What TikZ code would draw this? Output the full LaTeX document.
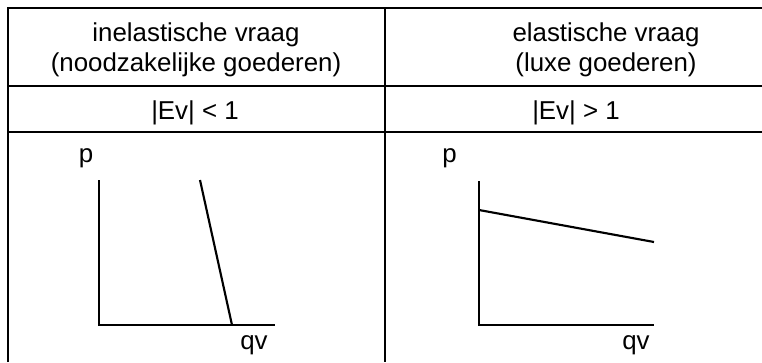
\documentclass[tikz,border=0pt]{standalone}
\usepackage{fontspec}
\setmainfont{Liberation Sans}

\begin{document}
\begin{tikzpicture}[x=0.75pt, y=-0.75pt,
  rule/.style={draw=black, line width=1.5pt},
  axis/.style={draw=black, line width=1.6pt},
  demand/.style={draw=black, line width=1.6pt},
  celltext/.style={font=\fontsize{19.4}{22.5}\selectfont, align=center, inner sep=0pt},
  axlabel/.style={font=\fontsize{19.4}{22.5}\selectfont, inner sep=0pt, anchor=base}
]
\useasboundingbox (0,0) rectangle (762,362);

% Table rules
\draw[rule] (8,362) -- (8,7.5) -- (762,7.5);
\draw[rule] (8,86) -- (762,86);
\draw[rule] (8,132) -- (762,132);
\draw[rule] (385,7.5) -- (385,362);

% Header row
\node[celltext] (headinel) at (196,50) {inelastische vraag\\(noodzakelijke goederen)};
\node[celltext] (headel) at (606,50) {elastische vraag\\(luxe goederen)};

% Elasticity row
\node[celltext] (evinel) at (195,112.5) {|Ev| < 1};
\node[celltext] (evel) at (576,112.5) {|Ev| > 1};

% Inelastic graph
\coordinate (top1) at (99,180);
\coordinate (orig1) at (99,325);
\coordinate (end1) at (275,325);
\coordinate (dtop1) at (200,180);
\coordinate (dbot1) at (232,325);
\draw[axis] (top1) -- (orig1) -- (end1);
\draw[demand] (dtop1) -- (dbot1);
\node[axlabel] (p1) at (86,162) {p};
\node[axlabel] (qv1) at (254,349) {qv};

% Elastic graph
\coordinate (top2) at (479,181);
\coordinate (orig2) at (479,325);
\coordinate (end2) at (654,325);
\coordinate (dtop2) at (479,210);
\coordinate (dbot2) at (654,242);
\draw[axis] (top2) -- (orig2) -- (end2);
\draw[demand] (dtop2) -- (dbot2);
\node[axlabel] (p2) at (449.5,162) {p};
\node[axlabel] (qv2) at (636,349) {qv};

\end{tikzpicture}
\end{document}
